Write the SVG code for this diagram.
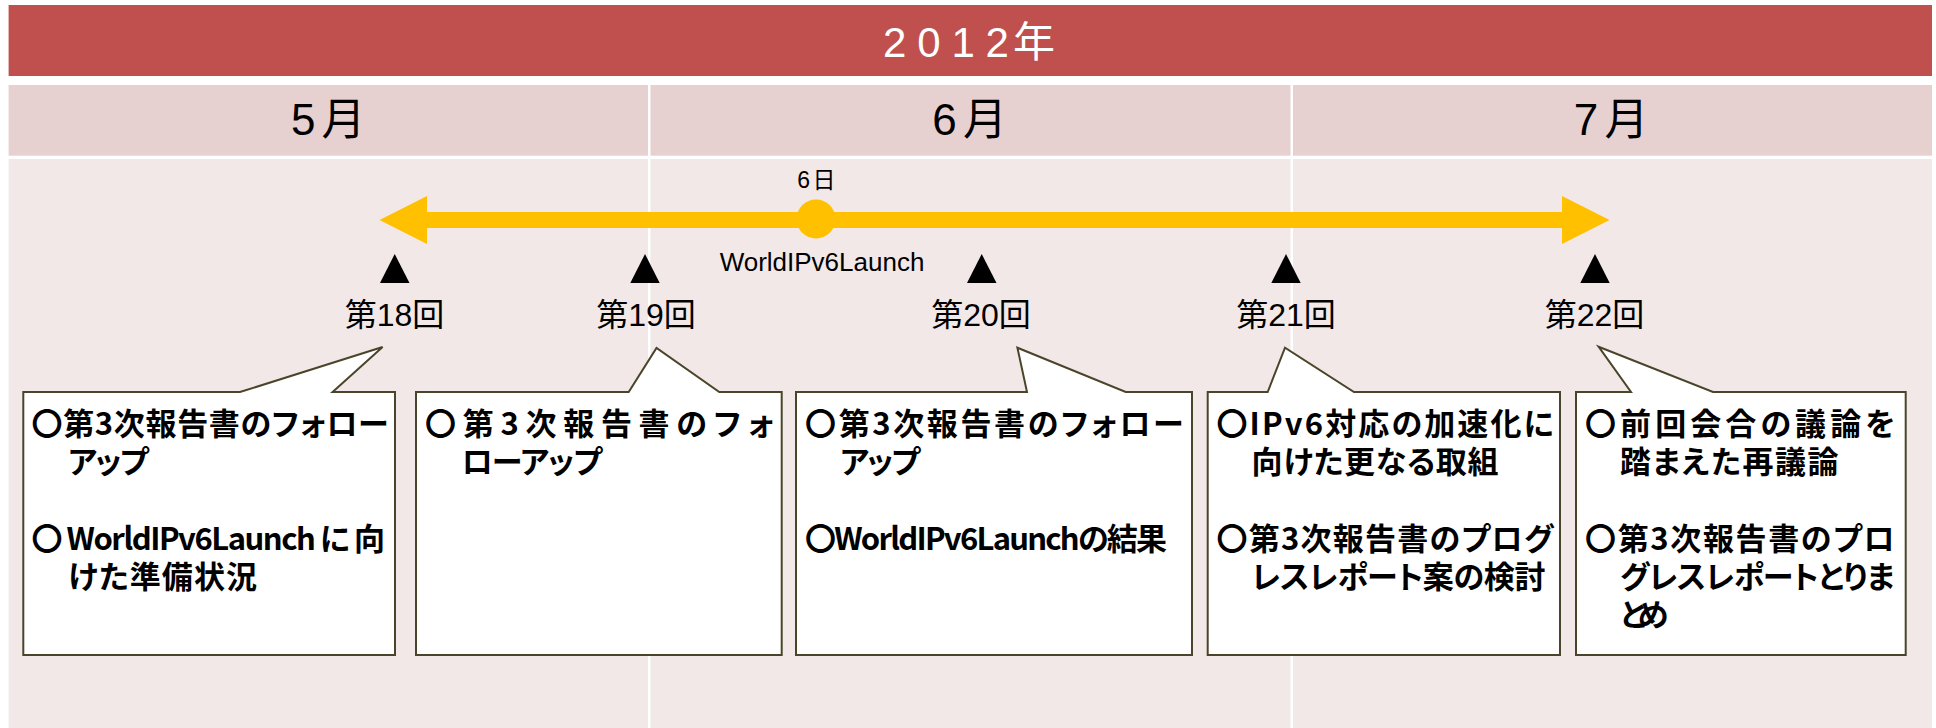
<svg xmlns="http://www.w3.org/2000/svg" width="1936" height="728" viewBox="0 0 1936 728">
<style>
.hdr{fill:#E7D0D0}
.cell{fill:#F2E8E8}
.lbl{font-family:"Liberation Sans","Noto Sans CJK JP",sans-serif;fill:#000}
.mon{font-family:"Liberation Sans","Noto Sans CJK JP",sans-serif;font-size:44px;fill:#000}
.box{fill:#FFFFFF;stroke:#4A452A;stroke-width:2;stroke-linejoin:miter}
.bt{font-family:"Noto Sans CJK JP",sans-serif;font-weight:700;font-size:31px;fill:#000;font-feature-settings:"palt" 1}
.tri{fill:#000}
</style>
<rect x="0" y="0" width="1936" height="728" fill="#FFFFFF"/>
<g id="table">
<rect x="8.6" y="5" width="1923.4" height="71" fill="#C0504D"/>
<text x="883 917.2 951.4 985.6 1013" y="57" font-family="Liberation Sans,Noto Sans CJK JP,sans-serif" font-size="42" fill="#FFFFFF">2012年</text>
<rect class="hdr" x="8.6" y="85" width="639.4" height="70.7"/>
<rect class="hdr" x="650.5" y="85" width="640" height="70.7"/>
<rect class="hdr" x="1293" y="85" width="639" height="70.7"/>
<rect class="cell" x="8.6" y="159" width="639.4" height="569"/>
<rect class="cell" x="650.5" y="159" width="640" height="569"/>
<rect class="cell" x="1293" y="159" width="639" height="569"/>
<text class="mon" x="290.9 321.5" y="134.7">5月</text>
<text class="mon" x="932.3 962.9" y="134.7">6月</text>
<text class="mon" x="1573.8 1604.4" y="134.7">7月</text>
</g>
<g id="connectors">
<polygon points="379.5,220 427,196 427,212 1562,212 1562,196 1609.6,220 1562,244 1562,228 427,228 427,244" fill="#FFC000"/>
</g>
<g id="launch">
<circle cx="816" cy="219" r="19.5" fill="#FFC000"/>
<text class="lbl" x="797.3 812.5" y="188.3" font-size="23">6日</text>
<text class="lbl" x="822" y="270.7" font-size="26" text-anchor="middle">WorldIPv6Launch</text>
</g>
<g id="m18">
<polygon class="tri" points="380,283 409.5,283 394.7,254"/>
<text class="lbl" x="394.5" y="326" font-size="32" text-anchor="middle">第18回</text>
</g>
<g id="m19">
<polygon class="tri" points="630.3,283 659.7,283 645,254"/>
<text class="lbl" x="646" y="326" font-size="32" text-anchor="middle">第19回</text>
</g>
<g id="m20">
<polygon class="tri" points="967,283 996.5,283 981.7,254"/>
<text class="lbl" x="981" y="326" font-size="32" text-anchor="middle">第20回</text>
</g>
<g id="m21">
<polygon class="tri" points="1271.3,283 1300.7,283 1286,254"/>
<text class="lbl" x="1286" y="326" font-size="32" text-anchor="middle">第21回</text>
</g>
<g id="m22">
<polygon class="tri" points="1580.3,283 1609.7,283 1595,254"/>
<text class="lbl" x="1594.5" y="326" font-size="32" text-anchor="middle">第22回</text>
</g>
<g id="box18">
<polygon class="box" points="23.3,392 240,392 382.6,347 332.6,392 395,392 395,655 23.3,655"/>
<text class="bt" x="31.5" y="434.5" textLength="357" lengthAdjust="spacing">〇第3次報告書のフォロー</text>
<text class="bt" x="68" y="473" textLength="80.5" lengthAdjust="spacing">アップ</text>
<text class="bt" x="31.5" y="550" textLength="353.5" lengthAdjust="spacing">〇 WorldIPv6Launch に 向</text>
<text class="bt" x="68" y="588" textLength="189" lengthAdjust="spacing">けた準備状況</text>
</g>
<g id="box19">
<polygon class="box" points="416,392 628.7,392 656.5,348 719.3,392 781.7,392 781.7,655 416,655"/>
<text class="bt" x="425" y="434.5" textLength="348.5" lengthAdjust="spacing">〇第3次報告書のフォ</text>
<text class="bt" x="461.5" y="473" textLength="140.5" lengthAdjust="spacing">ローアップ</text>
</g>
<g id="box20">
<polygon class="box" points="796,392 1027,392 1017.4,347.7 1125.7,392 1192,392 1192,655 796,655"/>
<text class="bt" x="805" y="434.5" textLength="378.5" lengthAdjust="spacing">〇第3次報告書のフォロー</text>
<text class="bt" x="840" y="473" textLength="80" lengthAdjust="spacing">アップ</text>
<text class="bt" x="805" y="550" textLength="362" lengthAdjust="spacing">〇WorldIPv6Launchの結果</text>
</g>
<g id="box21">
<polygon class="box" points="1207.7,392 1267.7,392 1285,347.7 1354,392 1560,392 1560,655 1207.7,655"/>
<text class="bt" x="1216.5" y="434.5" textLength="337" lengthAdjust="spacing">〇IPv6対応の加速化に</text>
<text class="bt" x="1251.5" y="473" textLength="247" lengthAdjust="spacing">向けた更なる取組</text>
<text class="bt" x="1216.5" y="550" textLength="337" lengthAdjust="spacing">〇第3次報告書のプログ</text>
<text class="bt" x="1251.5" y="588" textLength="294" lengthAdjust="spacing">レスレポート案の検討</text>
</g>
<g id="box22">
<polygon class="box" points="1576,392 1631,392 1598.6,346.7 1713,392 1905.7,392 1905.7,655 1576,655"/>
<text class="bt" x="1585" y="434.5" textLength="310" lengthAdjust="spacing">〇前回会合の議論を</text>
<text class="bt" x="1620" y="473" textLength="218.5" lengthAdjust="spacing">踏まえた再議論</text>
<text class="bt" x="1585" y="550" textLength="310" lengthAdjust="spacing">〇第3次報告書のプロ</text>
<text class="bt" x="1620" y="588" textLength="275" lengthAdjust="spacing">グレスレポートとりま</text>
<text class="bt" x="1620" y="626" textLength="48.5" lengthAdjust="spacing">とめ</text>
</g>
</svg>
